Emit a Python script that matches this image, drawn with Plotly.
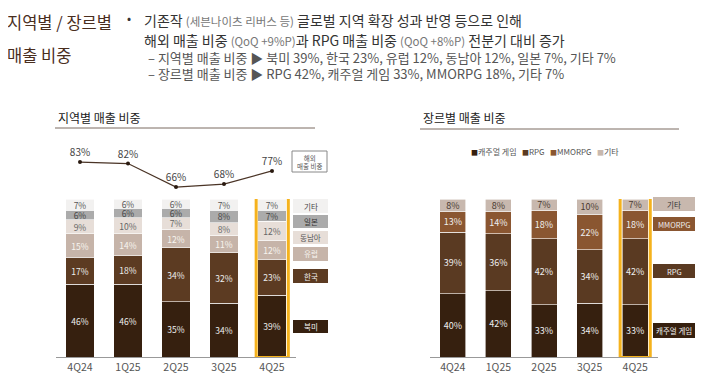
import plotly.graph_objects as go

# the page body adds an 8px margin, so the figure is placed at (8, 8)
OFF = 8
W, H = 720 - OFF, 390 - OFF
def X(px): return (px - OFF) / W
def Y(py): return 1 - (py - OFF) / H

quarters = ["4Q24", "1Q25", "2Q25", "3Q25", "4Q25"]

# Region share (%)
region_names = ["북미", "한국", "유럽", "동남아", "일본", "기타"]
na = [46, 46, 35, 34, 39]
kr = [17, 18, 34, 32, 23]
eu = [15, 14, 12, 11, 12]
sea = [9, 10, 7, 8, 12]
jp = [6, 6, 6, 8, 7]
etc_r = [7, 6, 6, 7, 7]
overseas = [83, 82, 66, 68, 77]

# Genre share (%)
genre_names = ["캐주얼 게임", "RPG", "MMORPG", "기타"]
casual = [40, 42, 33, 34, 33]
rpg = [39, 36, 42, 34, 42]
mmorpg = [13, 14, 18, 22, 18]
etc_g = [8, 8, 7, 10, 7]

FONT = "Noto Sans CJK KR"
region_colors = ["#36200f", "#5c3b22", "#c6b4a9", "#e7ded8", "#ababab", "#f2f1f0"]
region_text = ["#eeeeee", "#eeeeee", "#f8f4f0", "#666666", "#444444", "#555555"]
genre_colors = ["#36200f", "#5a3a22", "#8a5631", "#c8b8ae"]
genre_text = ["#eeeeee", "#eeeeee", "#eeeeee", "#4a3a30"]

fig = go.Figure()

for name, vals, c, tc in zip(region_names, [na, kr, eu, sea, jp, etc_r], region_colors, region_text):
    fig.add_trace(go.Bar(
        x=quarters, y=vals, name=name, xaxis="x", yaxis="y",
        marker=dict(color=c, line=dict(color="white", width=0.6)),
        width=0.6, text=[f"{v}%" for v in vals], textposition="inside",
        insidetextanchor="middle", textangle=0, constraintext="none",
        textfont=dict(size=8.5, color=tc, family=FONT), showlegend=False,
        hoverinfo="skip"))

for name, vals, c, tc in zip(genre_names, [casual, rpg, mmorpg, etc_g], genre_colors, genre_text):
    fig.add_trace(go.Bar(
        x=quarters, y=vals, name=name, xaxis="x2", yaxis="y2",
        marker=dict(color=c, line=dict(color="white", width=0.6)),
        width=0.57, text=[f"{v}%" for v in vals], textposition="inside",
        insidetextanchor="middle", textangle=0, constraintext="none",
        textfont=dict(size=9, color=tc, family=FONT), showlegend=False,
        hoverinfo="skip"))

fig.add_trace(go.Scatter(
    x=quarters, y=overseas, xaxis="x", yaxis="y3", mode="lines+markers+text",
    line=dict(color="#4a3426", width=1.2), marker=dict(size=4, color="#2a1a10"),
    text=[f"{v}%" for v in overseas], textposition="top center",
    textfont=dict(size=10, color="#444444", family=FONT), showlegend=False,
    cliponaxis=False, hoverinfo="skip"))

axis_common = dict(type="category", showline=True, linecolor="#999999", linewidth=1,
                   ticks="", showgrid=False, zeroline=False,
                   tickfont=dict(size=10.5, color="#555555", family=FONT))
fig.update_layout(
    width=W, height=H, margin=dict(l=0, r=0, t=0, b=0),
    paper_bgcolor="white", plot_bgcolor="rgba(0,0,0,0)",
    barmode="stack", bargap=0.4,
    font=dict(family=FONT),
    xaxis=dict(domain=[X(56), X(296)], anchor="y", range=[-0.5, 4.5], **axis_common),
    yaxis=dict(domain=[Y(357), Y(199)], range=[0, 100], visible=False),
    xaxis2=dict(domain=[X(430), X(658)], anchor="y2", range=[-0.5, 4.5], **axis_common),
    yaxis2=dict(domain=[Y(357), Y(199)], range=[0, 100], visible=False),
    yaxis3=dict(domain=[Y(195), Y(150)], range=[60.6, 91.2], visible=False, anchor="x"),
)

shapes = []
ann = []
def note(x, y, text, size, color, xanchor="center", align="center", xshift=0):
    ann.append(dict(x=X(x), y=Y(y), xref="paper", yref="paper", xanchor=xanchor, yanchor="middle",
                    text=text, showarrow=False, align=align, xshift=xshift,
                    font=dict(size=size, color=color, family=FONT)))

# highlight rectangles
shapes.append(dict(type="rect", xref="x", yref="y", x0=4 - 0.33, x1=4 + 0.34, y0=-0.3, y1=101.3,
                   line=dict(color="#f5b21d", width=3), fillcolor="rgba(0,0,0,0)"))
shapes.append(dict(type="rect", xref="x2", yref="y2", x0=4 - 0.33, x1=4 + 0.33, y0=-0.3, y1=101.3,
                   line=dict(color="#f5b21d", width=3), fillcolor="rgba(0,0,0,0)"))

# underlines
shapes.append(dict(type="line", xref="paper", yref="paper", x0=X(55), x1=X(315), y0=Y(128), y1=Y(128),
                   line=dict(color="#7a6a60", width=1)))
shapes.append(dict(type="line", xref="paper", yref="paper", x0=X(420), x1=X(679), y0=Y(129), y1=Y(129),
                   line=dict(color="#7a6a60", width=1)))

# overseas box
shapes.append(dict(type="rect", xref="paper", yref="paper", x0=X(292), x1=X(327), y0=Y(172), y1=Y(151),
                   line=dict(color="#888888", width=1), fillcolor="white"))
note(309.5, 161.5, "해외<br>매출 비중", 6.5, "#555555")

# left legend boxes: (label, color, textcolor, y0, y1)
left_boxes = [("기타", region_colors[5], "#444444", 199, 213),
              ("일본", region_colors[4], "#333333", 215, 228),
              ("동남아", region_colors[3], "#555555", 231, 244),
              ("유럽", region_colors[2], "#f8f4f0", 247, 261),
              ("한국", region_colors[1], "#f0f0f0", 269, 283),
              ("북미", region_colors[0], "#f0f0f0", 320, 333)]
for lab, c, tc, y0, y1 in left_boxes:
    shapes.append(dict(type="rect", xref="paper", yref="paper", x0=X(293), x1=X(328), y0=Y(y1), y1=Y(y0),
                       line=dict(width=0), fillcolor=c))
    note(310.5, (y0 + y1) / 2, lab, 7.5, tc)

right_boxes = [("기타", genre_colors[3], "#333333", 197, 211),
               ("MMORPG", genre_colors[2], "#f0f0f0", 217, 231),
               ("RPG", genre_colors[1], "#f0f0f0", 264, 278),
               ("캐주얼 게임", genre_colors[0], "#f0f0f0", 323, 338)]
for lab, c, tc, y0, y1 in right_boxes:
    shapes.append(dict(type="rect", xref="paper", yref="paper", x0=X(653), x1=X(695), y0=Y(y1), y1=Y(y0),
                       line=dict(width=0), fillcolor=c))
    note(674, (y0 + y1) / 2, lab, 7.5, tc)

# right top legend
leg = "   ".join(f"<span style='color:{c};font-size:7px'>■</span>{n}" for n, c in zip(genre_names, genre_colors))
note(545, 152, leg, 8, "#555555")

# subtitles
note(56, 117, "지역별 매출 비중", 12, "#222222", xanchor="left")
note(421, 117, "장르별 매출 비중", 12, "#222222", xanchor="left")

# header
title_col = "#4a2e1e"
note(OFF, 22, "지역별 / 장르별", 16.5, title_col, xanchor="left", xshift=-3)
note(OFF, 55, "매출 비중", 16.5, title_col, xanchor="left", xshift=-3)
note(129, 18, "•", 12, "#333333")
small = "<span style='font-size:11.5px;color:#777777'>{}</span>"
line1 = "기존작 " + small.format("(세븐나이츠 리버스 등)") + " 글로벌 지역 확장 성과 반영 등으로 인해"
line2 = "해외 매출 비중 " + small.format("(QoQ +9%P)") + "과 RPG 매출 비중 " + small.format("(QoQ +8%P)") + " 전분기 대비 증가"
note(142, 20, line1, 14, "#333333", xanchor="left")
note(142, 40, line2, 14, "#333333", xanchor="left")
line3 = "– 지역별 매출 비중 ▶ 북미 39%, 한국 23%, 유럽 12%, 동남아 12%, 일본 7%, 기타 7%"
line4 = "– 장르별 매출 비중 ▶ RPG 42%, 캐주얼 게임 33%, MMORPG 18%, 기타 7%"
note(146, 58, line3, 13, "#555555", xanchor="left")
note(146, 73, line4, 13, "#555555", xanchor="left")

fig.update_layout(shapes=shapes, annotations=ann)
fig.write_html("out.html")
